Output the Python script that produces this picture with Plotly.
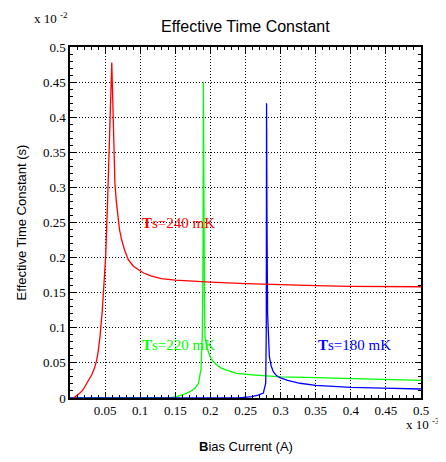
import plotly.graph_objects as go

# Bias current (x 1e-3 A) and effective time constant (x 1e-2 s)
red_x = [0.005, 0.007, 0.010, 0.014, 0.018, 0.021, 0.026, 0.031, 0.035, 0.038, 0.0405, 0.0427,
         0.046, 0.0489, 0.0508, 0.0536, 0.056, 0.0585, 0.0595, 0.0605, 0.0617, 0.063, 0.064,
         0.066, 0.068, 0.0705, 0.0736, 0.078, 0.083, 0.09, 0.097, 0.105, 0.115, 0.13, 0.15,
         0.175, 0.2, 0.25, 0.3, 0.35, 0.4, 0.45, 0.5]
red_y = [0.0, 0.002, 0.004, 0.007, 0.011, 0.016, 0.024, 0.033, 0.043, 0.054, 0.069, 0.087,
         0.125, 0.163, 0.201, 0.282, 0.377, 0.46, 0.478, 0.44, 0.377, 0.33, 0.306,
         0.28, 0.258, 0.24, 0.225, 0.21, 0.197, 0.188, 0.183, 0.178, 0.174, 0.170, 0.168,
         0.166, 0.165, 0.163, 0.161, 0.160, 0.159, 0.1588, 0.1585]

green_x = [0.0, 0.14, 0.152, 0.162, 0.171, 0.178, 0.183, 0.1865, 0.1885, 0.1895, 0.19, 0.1905,
           0.1915, 0.1923, 0.195, 0.1994, 0.204, 0.209, 0.215, 0.222, 0.23, 0.237, 0.26, 0.285,
           0.3, 0.35, 0.4, 0.45, 0.5]
green_y = [0.0, 0.0, 0.002, 0.005, 0.009, 0.014, 0.021, 0.04, 0.09, 0.2, 0.45, 0.3,
           0.14, 0.087, 0.072, 0.059, 0.052, 0.047, 0.043, 0.040, 0.037, 0.035, 0.033, 0.031,
           0.030, 0.029, 0.0275, 0.026, 0.025]

blue_x = [0.0, 0.24, 0.259, 0.268, 0.2754, 0.2788, 0.2796, 0.28, 0.2806, 0.2815, 0.2825, 0.284,
          0.2865, 0.2896, 0.294, 0.299, 0.31, 0.32, 0.3276, 0.35, 0.375, 0.4, 0.446, 0.5]
blue_y = [0.0, 0.0, 0.002, 0.004, 0.007, 0.021, 0.1, 0.42, 0.25, 0.12, 0.085, 0.059,
          0.046, 0.0375, 0.032, 0.029, 0.025, 0.0225, 0.021, 0.018, 0.016, 0.015, 0.0142, 0.0128]

tick_vals = [0, 0.05, 0.1, 0.15, 0.2, 0.25, 0.3, 0.35, 0.4, 0.45, 0.5]
tick_text = ["0", "0.05", "0.1", "0.15", "0.2", "0.25", "0.3", "0.35", "0.4", "0.45", "0.5"]
x_tick_text = [""] + tick_text[1:]

SERIF = "Liberation Serif, Times New Roman, serif"
SANS = "Liberation Sans, Arial, sans-serif"

fig = go.Figure()
fig.add_trace(go.Scatter(x=green_x, y=green_y, mode="lines", line=dict(color="#00ff00", width=1.3)))
fig.add_trace(go.Scatter(x=blue_x, y=blue_y, mode="lines", line=dict(color="#0000ff", width=1.3)))
fig.add_trace(go.Scatter(x=red_x, y=red_y, mode="lines", line=dict(color="#ff0000", width=1.3)))

axis_common = dict(
    showline=True, linecolor="black", linewidth=1.5, mirror="ticks",
    ticks="inside", ticklen=6, tickcolor="black", tickwidth=1,
    showgrid=True, gridcolor="black", gridwidth=1, griddash="1px,2px",
    zeroline=False, automargin=False,
    tickfont=dict(family=SERIF, size=13, color="black"),
    minor=dict(dtick=0.01, ticks="inside", ticklen=3, tickcolor="black", showgrid=False),
)

fig.update_xaxes(range=[0, 0.5], tickvals=tick_vals, ticktext=x_tick_text, **axis_common)
fig.update_yaxes(range=[0, 0.5], tickvals=tick_vals, ticktext=tick_text, **axis_common)

fig.add_annotation(x=0.1, y=0.25, xref="x", yref="y", text="<b>T</b>s=240 mK", showarrow=False,
                   xanchor="left", yanchor="middle", font=dict(family=SERIF, size=15, color="#ff0000"))
fig.add_annotation(x=0.1, y=0.0755, xref="x", yref="y", text="<b>T</b>s=220 mK", showarrow=False,
                   xanchor="left", yanchor="middle", font=dict(family=SERIF, size=15, color="#00ff00"))
fig.add_annotation(x=0.35, y=0.0755, xref="x", yref="y", text="<b>T</b>s=180 mK", showarrow=False,
                   xanchor="left", yanchor="middle", font=dict(family=SERIF, size=15, color="#0000ff"))

# exponent labels
fig.add_annotation(x=-0.107, y=1.083, xref="paper", yref="paper", text="x 10 <sup>-2</sup>",
                   showarrow=False, xanchor="left", yanchor="middle",
                   font=dict(family=SERIF, size=13, color="black"))
fig.add_annotation(x=1.06, y=-0.075, xref="paper", yref="paper", text="x 10 <sup>-3</sup>",
                   showarrow=False, xanchor="right", yanchor="middle",
                   font=dict(family=SERIF, size=13, color="black"))

# title and axis titles
fig.add_annotation(x=0.5, y=1.057, xref="paper", yref="paper", text="Effective Time Constant",
                   showarrow=False, xanchor="center", yanchor="middle",
                   font=dict(family=SANS, size=16, color="black"))
fig.add_annotation(x=0.5, y=-0.1396, xref="paper", yref="paper", text="<b>B</b>ias Current (A)",
                   showarrow=False, xanchor="center", yanchor="middle",
                   font=dict(family=SANS, size=13, color="black"))
fig.add_annotation(x=-0.137, y=0.5, xref="paper", yref="paper", text="Effective Time Constant (s)",
                   showarrow=False, xanchor="center", yanchor="middle", textangle=-90,
                   font=dict(family=SANS, size=13, color="black"))

# page body has an 8px default margin, so the figure is sized/offset to compensate
fig.update_layout(
    width=438, height=454,
    margin=dict(l=62, r=25, t=39, b=64),
    paper_bgcolor="white", plot_bgcolor="white",
    showlegend=False,
)

fig.write_html("out.html")
